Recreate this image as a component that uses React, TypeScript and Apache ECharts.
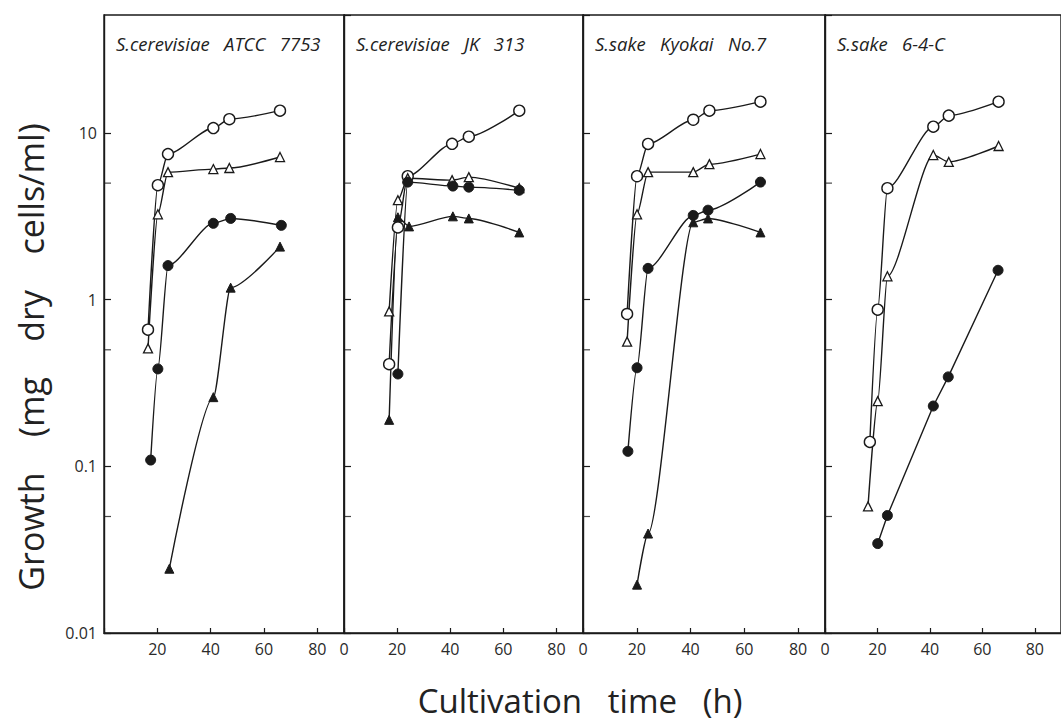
import React, { useEffect, useRef } from "react";
import * as echarts from "echarts";

// ---- Data (time h, growth mg dry cells/ml) ----
const panelTitles = [
  "S.cerevisiae   ATCC   7753",
  "S.cerevisiae   JK   313",
  "S.sake   Kyokai   No.7",
  "S.sake   6-4-C",
];

const p1OpenCircle = [[16.5, 0.66], [20.2, 4.86], [24, 7.47], [41, 10.7], [47, 12.1], [66, 13.6]];
const p1OpenTriangle = [[16.5, 0.51], [20.2, 3.25], [24, 5.82], [41, 6.07], [47, 6.16], [66, 7.17]];
const p1FilledCircle = [[17.5, 0.109], [20.2, 0.384], [24, 1.6], [41, 2.87], [47.5, 3.07], [66.5, 2.79]];
const p1FilledTriangle = [[24.5, 0.0243], [41, 0.26], [47.5, 1.18], [66, 2.08]];

const p2OpenCircle = [[17, 0.41], [20.3, 2.71], [24, 5.5], [40.7, 8.6], [47, 9.5], [66, 13.6]];
const p2OpenTriangle = [[17, 0.85], [20.3, 3.95], [24, 5.35], [40.7, 5.21], [47, 5.43], [66, 4.66]];
const p2FilledCircle = [[20.3, 0.358], [24, 5.07], [41, 4.8], [47, 4.73], [66, 4.53]];
const p2FilledTriangle = [[17, 0.19], [20.3, 3.12], [24.5, 2.75], [41, 3.16], [47, 3.07], [66, 2.53]];

const p3OpenCircle = [[16.4, 0.82], [20.1, 5.5], [24.2, 8.59], [41, 12.0], [47, 13.6], [66, 15.4]];
const p3OpenTriangle = [[16.4, 0.56], [20.1, 3.25], [24.2, 5.82], [41, 5.82], [47, 6.5], [66, 7.47]];
const p3FilledCircle = [[16.7, 0.123], [20.1, 0.39], [24.2, 1.54], [41, 3.2], [46.5, 3.44], [66, 5.07]];
const p3FilledTriangle = [[20.1, 0.0195], [24.2, 0.0395], [41, 2.91], [46.5, 3.07], [66, 2.53]];

const p4OpenCircle = [[17.1, 0.14], [20.1, 0.87], [23.8, 4.66], [41.3, 10.9], [47.2, 12.7], [66.2, 15.4]];
const p4OpenTriangle = [[16.4, 0.0575], [20.1, 0.246], [23.8, 1.38], [41.3, 7.37], [47.2, 6.7], [66.2, 8.35]];
const p4FilledCircle = [[20.1, 0.0344], [23.8, 0.0507], [41.3, 0.23], [47, 0.344], [66, 1.5]];
const p4FilledTriangle: number[][] = [];

const yTickLabels = [0.01, 0.1, 1, 10];
const yMinorTicks = [0.05, 0.5, 5];
const xMin = 0;
const xMax = 90;
const xInterval = 20;
const yMin = 0.01;
const yMax = 51;

const xTitle = "Cultivation   time   (h)";
const yTitle = "Growth    (mg    dry    cells/ml)";

// ---- Layout ----
const gridLefts = [104, 344, 583, 825];
const gridWidths = [240, 239, 242, 242];
const gridTop = 15;
const gridHeight = 618;

const INK = "#1a1a1a";

export default function App() {
  const ref = useRef<HTMLDivElement>(null);

  useEffect(() => {
    if (!ref.current) return;
    const chart = echarts.init(ref.current, undefined, { renderer: "svg" });

    const panels = [
      { oc: p1OpenCircle, ot: p1OpenTriangle, fc: p1FilledCircle, ft: p1FilledTriangle },
      { oc: p2OpenCircle, ot: p2OpenTriangle, fc: p2FilledCircle, ft: p2FilledTriangle },
      { oc: p3OpenCircle, ot: p3OpenTriangle, fc: p3FilledCircle, ft: p3FilledTriangle },
      { oc: p4OpenCircle, ot: p4OpenTriangle, fc: p4FilledCircle, ft: p4FilledTriangle },
    ];

    const grids = gridLefts.map((l, i) => ({
      left: l,
      top: gridTop,
      width: gridWidths[i],
      height: gridHeight,
      show: true,
      borderColor: INK,
      borderWidth: 1.4,
      backgroundColor: "transparent",
      containLabel: false,
    }));

    const xAxes = gridLefts.map((_, i) => ({
      type: "value",
      gridIndex: i,
      min: xMin,
      max: xMax,
      interval: xInterval,
      axisLine: { show: true, lineStyle: { color: INK, width: 1.4 } },
      axisTick: { show: true, inside: true, length: 5, lineStyle: { color: INK, width: 1.2 } },
      axisLabel: {
        show: true,
        showMaxLabel: false,
        margin: 8,
        color: "#2a2a2a",
        fontSize: 16,
        fontFamily: "Open Sans",
        formatter: (v: number) => (i === 0 && v === 0 ? "" : String(v)),
      },
      splitLine: { show: false },
    }));

    const yAxes = gridLefts.map((_, i) => ({
      type: "log",
      logBase: 10,
      gridIndex: i,
      min: yMin,
      max: yMax,
      axisLine: { show: true, lineStyle: { color: INK, width: 1.4 } },
      axisTick: { show: true, inside: true, length: 7, lineStyle: { color: INK, width: 1.2 } },
      axisLabel: {
        show: i === 0,
        showMaxLabel: false,
        margin: 7,
        color: "#2a2a2a",
        fontSize: 16,
        fontFamily: "Open Sans",
        formatter: (v: number) => {
          const t = yTickLabels.find((x) => Math.abs(x - v) / x < 1e-6);
          return t === undefined ? "" : String(t);
        },
      },
      splitLine: { show: false },
    }));

    const series: any[] = [];
    panels.forEach((p, i) => {
      const common = {
        type: "line",
        xAxisIndex: i,
        yAxisIndex: i,
        smooth: 0.25,
        smoothMonotone: "x",
        lineStyle: { color: INK, width: 1.4 },
        emphasis: { disabled: true },
        z: 3,
      };
      series.push({
        ...common,
        name: `open-circle-${i}`,
        data: p.oc,
        symbol: "circle",
        symbolSize: 11,
        itemStyle: { color: "#ffffff", borderColor: INK, borderWidth: 1.4 },
      });
      series.push({
        ...common,
        name: `open-triangle-${i}`,
        data: p.ot,
        symbol: "triangle",
        symbolSize: 9,
        itemStyle: { color: "#ffffff", borderColor: INK, borderWidth: 1.3 },
      });
      series.push({
        ...common,
        name: `filled-circle-${i}`,
        data: p.fc,
        smooth: i === 3 ? false : 0.25,
        symbol: "circle",
        symbolSize: 10,
        itemStyle: { color: INK, borderColor: INK, borderWidth: 1 },
      });
      if (p.ft.length) {
        series.push({
          ...common,
          name: `filled-triangle-${i}`,
          data: p.ft,
          symbol: "triangle",
          symbolSize: 9,
          itemStyle: { color: INK, borderColor: INK, borderWidth: 1 },
        });
      }
      // minor y ticks at 5 x 10^k, drawn through the axis scale
      series.push({
        type: "scatter",
        xAxisIndex: i,
        yAxisIndex: i,
        data: yMinorTicks.map((v) => [xMin, v]),
        symbol: "rect",
        symbolSize: [7, 1.2],
        symbolOffset: [3.5, 0],
        itemStyle: { color: INK },
        silent: true,
        clip: false,
        z: 2,
      });
    });

    const graphic: any[] = [
      ...panelTitles.map((t, i) => ({
        type: "text",
        left: gridLefts[i] + 12,
        top: 34,
        style: {
          text: t,
          fill: "#222",
          font: "italic 18.5px 'Open Sans'",
        },
      })),
      {
        type: "text",
        x: 580,
        y: 700,
        style: {
          text: xTitle,
          fill: "#222",
          font: "33px 'Open Sans'",
          textAlign: "center",
          textVerticalAlign: "middle",
        },
      },
      {
        type: "text",
        x: 31,
        y: 357,
        rotation: Math.PI / 2,
        style: {
          text: yTitle,
          fill: "#222",
          font: "34px 'Open Sans'",
          textAlign: "center",
          textVerticalAlign: "middle",
        },
      },
    ];

    chart.setOption({
      animation: false,
      backgroundColor: "#ffffff",
      grid: grids,
      xAxis: xAxes,
      yAxis: yAxes,
      series,
      graphic,
    });

    return () => chart.dispose();
  }, []);

  return (
    <div
      ref={ref}
      style={{ position: "absolute", left: 0, top: 0, width: 1061, height: 722 }}
    />
  );
}
